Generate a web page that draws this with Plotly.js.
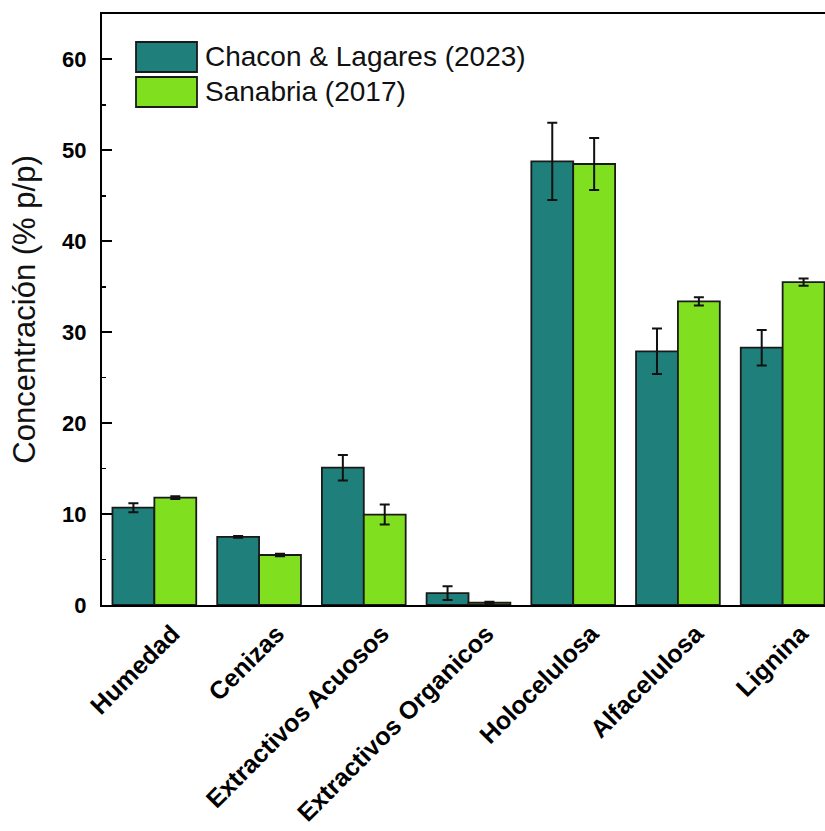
<!DOCTYPE html>
<html>
<head>
<meta charset="utf-8">
<script src="https://cdn.plot.ly/plotly-3.0.1.min.js"></script>
<style>
  html, body { margin: 0; padding: 0; overflow: hidden; background: #fff; }
  #chart { width: 840px; height: 831px; }
</style>
</head>
<body>
<div id="chart"></div>
<script>
// Composition of the biomass (% p/p) compared with a previous study
const categories = ['Humedad', 'Cenizas', 'Extractivos Acuosos', 'Extractivos Organicos',
                    'Holocelulosa', 'Alfacelulosa', 'Lignina'];

const seriesNames = ['Chacon & Lagares (2023)', 'Sanabria (2017)'];

const chaconValues = [10.7, 7.5, 15.1, 1.3, 48.8, 27.9, 28.3];
const chaconErrors = [0.5, 0.1, 1.4, 0.75, 4.25, 2.5, 1.95];

const sanabriaValues = [11.8, 5.5, 9.95, 0.25, 48.5, 33.4, 35.5];
const sanabriaErrors = [0.15, 0.15, 1.1, 0.1, 2.85, 0.45, 0.4];

const yTickValues = [0, 10, 20, 30, 40, 50, 60];

const colors = ['#1f7f7a', '#80e020'];
const outline = '#1a1a1a';

const errStyle = (arr) => ({
  type: 'data', array: arr, visible: true,
  color: '#111', thickness: 2, width: 5
});

const traces = [
  {
    type: 'bar', name: seriesNames[0], x: categories, y: chaconValues,
    marker: { color: colors[0], line: { color: outline, width: 1.8 } },
    error_y: errStyle(chaconErrors), showlegend: false
  },
  {
    type: 'bar', name: seriesNames[1], x: categories, y: sanabriaValues,
    marker: { color: colors[1], line: { color: outline, width: 1.8 } },
    error_y: errStyle(sanabriaErrors), showlegend: false
  }
];

// plot area in pixels
const W = 840, H = 831;
const M = { l: 102, r: 5, t: 14, b: 226 };
const plotW = W - M.l - M.r, plotH = H - M.t - M.b;
const px = (x) => (x - M.l) / plotW;
const py = (y) => (H - M.b - y) / plotH;

// hand-built legend: large swatches with labels
const legendRows = [{ top: 42, bottom: 72 }, { top: 77, bottom: 107 }];
const shapes = legendRows.map((r, i) => ({
  type: 'rect', xref: 'paper', yref: 'paper',
  x0: px(136), x1: px(197), y0: py(r.bottom), y1: py(r.top),
  fillcolor: colors[i], line: { color: outline, width: 1.8 }
}));
const annotations = legendRows.map((r, i) => ({
  xref: 'paper', yref: 'paper', x: px(203), y: py((r.top + r.bottom) / 2),
  xanchor: 'left', yanchor: 'middle', showarrow: false,
  text: seriesNames[i],
  font: { family: 'Liberation Sans, Arial, sans-serif', size: 28, color: '#111' }
}));

const layout = {
  width: W, height: H,
  margin: M,
  paper_bgcolor: '#fff', plot_bgcolor: '#fff',
  barmode: 'group', bargap: 0.2, bargroupgap: 0,
  font: { family: 'Liberation Sans, Arial, sans-serif', color: '#000' },
  xaxis: {
    type: 'category', range: [-0.5, 6.5],
    showline: true, linecolor: '#000', linewidth: 2, mirror: true,
    ticks: '', tickangle: -45, showgrid: false, zeroline: false,
    ticklabelshift: 18, ticklabelstandoff: 2,
    tickfont: { family: 'Liberation Sans, Arial, sans-serif', size: 25, weight: 'bold', color: '#000' }
  },
  yaxis: {
    range: [0, 65],
    showline: true, linecolor: '#000', linewidth: 2, mirror: true,
    ticks: 'inside', ticklen: 10, tickwidth: 2, tickcolor: '#000',
    tickvals: yTickValues, ticktext: yTickValues.map(String),
    ticklabelstandoff: 9,
    minor: { ticks: 'inside', ticklen: 4, tickwidth: 1.5, tickcolor: '#000', dtick: 5, showgrid: false },
    showgrid: false, zeroline: false,
    tickfont: { family: 'Liberation Sans, Arial, sans-serif', size: 22, weight: 'bold', color: '#000' },
    title: {
      text: 'Concentración (% p/p)', standoff: 17,
      font: { family: 'Liberation Sans, Arial, sans-serif', size: 31, color: '#111' }
    }
  },
  shapes: shapes,
  annotations: annotations
};

Plotly.newPlot('chart', traces, layout, { displayModeBar: false, staticPlot: true });
</script>
</body>
</html>
